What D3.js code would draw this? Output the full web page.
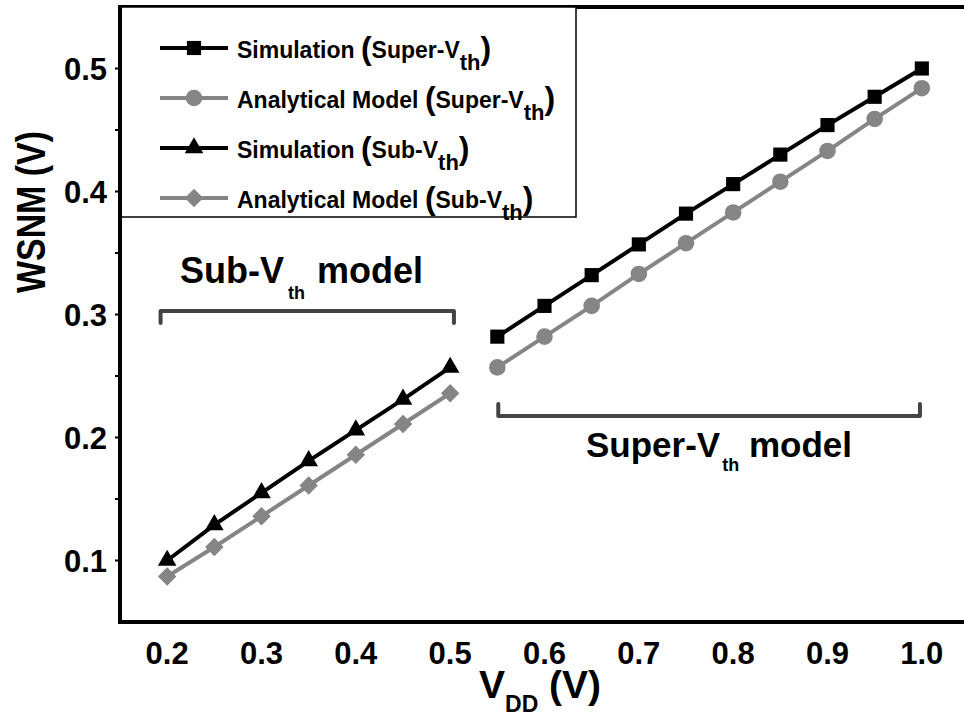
<!DOCTYPE html>
<html>
<head>
<meta charset="utf-8">
<script src="https://cdn.jsdelivr.net/npm/d3@7"></script>
<style>
  body { margin: 0; background: #fff; }
  text { font-family: "Liberation Sans", Arial, sans-serif; font-weight: bold; }
</style>
</head>
<body>
<svg width="964" height="717"></svg>
<script>
// data
var vddSuper = [0.55, 0.6, 0.65, 0.7, 0.75, 0.8, 0.85, 0.9, 0.95, 1.0];
var simSuper = [0.282, 0.307, 0.332, 0.357, 0.382, 0.406, 0.430, 0.454, 0.477, 0.500];
var modelSuper = [0.257, 0.282, 0.307, 0.333, 0.358, 0.383, 0.408, 0.433, 0.459, 0.484];

var vddSub = [0.2, 0.25, 0.3, 0.35, 0.4, 0.45, 0.5];
var simSub = [0.100, 0.129, 0.155, 0.181, 0.206, 0.231, 0.257];
var modelSub = [0.087, 0.111, 0.136, 0.161, 0.186, 0.211, 0.236];

var xTicks = [0.2, 0.3, 0.4, 0.5, 0.6, 0.7, 0.8, 0.9, 1.0];
var yTicks = [0.1, 0.2, 0.3, 0.4, 0.5];
var yMinor = [0.1, 0.15, 0.2, 0.25, 0.3, 0.35, 0.4, 0.45, 0.5];

var svg = d3.select('svg');

var x = d3.scaleLinear().domain([0.15, 1.05]).range([120, 969]);
var y = d3.scaleLinear().domain([0.05, 0.55]).range([622, 7]);

var black = '#000';
var gray = '#858585';

// series definitions
var series = [
    { name: 'Simulation ', tag: 'Super-V', xs: vddSuper, ys: simSuper, color: black, shape: 'square' },
    { name: 'Analytical Model ', tag: 'Super-V', xs: vddSuper, ys: modelSuper, color: gray, shape: 'circle' },
    { name: 'Simulation ', tag: 'Sub-V', xs: vddSub, ys: simSub, color: black, shape: 'triangle' },
    { name: 'Analytical Model ', tag: 'Sub-V', xs: vddSub, ys: modelSub, color: gray, shape: 'diamond' }
];

function symbolPath(shape) {
    if (shape === 'square') return d3.symbol().type(d3.symbolSquare).size(200)();
    if (shape === 'circle') return d3.symbol().type(d3.symbolCircle).size(215)();
    if (shape === 'triangle') return d3.symbol().type(d3.symbolTriangle).size(150)();
    return d3.symbol().type(d3.symbolSquare).size(170)();
}

// frame
svg.append('rect')
    .attr('x', x(0.15)).attr('y', y(0.55))
    .attr('width', x(1.05) - x(0.15)).attr('height', y(0.05) - y(0.55))
    .attr('fill', 'none').attr('stroke', black).attr('stroke-width', 4);

// y axis (tiny ticks)
var yAxis = svg.append('g').attr('transform', 'translate(' + x(0.15) + ',0)');
yAxis.selectAll('line').data(yMinor).enter().append('line')
    .attr('x1', -5).attr('x2', 0)
    .attr('y1', function(d) { return y(d); }).attr('y2', function(d) { return y(d); })
    .attr('stroke', black).attr('stroke-width', 2);
yAxis.selectAll('text').data(yTicks).enter().append('text')
    .attr('x', -13).attr('y', function(d) { return y(d) + 11; })
    .attr('text-anchor', 'end').attr('font-size', 31)
    .text(function(d) { return d.toFixed(1); });

// x axis labels
svg.append('g').selectAll('text').data(xTicks).enter().append('text')
    .attr('x', function(d) { return x(d); }).attr('y', 664)
    .attr('text-anchor', 'middle').attr('font-size', 31)
    .text(function(d) { return d.toFixed(1); });

// axis titles
var xt = svg.append('text').attr('x', 479).attr('y', 698).attr('font-size', 39);
xt.append('tspan').text('V');
xt.append('tspan').attr('font-size', 23).attr('dy', 14).text('DD');
xt.append('tspan').attr('dy', -14).text(' (V)');

svg.append('text')
    .attr('transform', 'translate(45,212) rotate(-90)')
    .attr('text-anchor', 'middle').attr('font-size', 40)
    .attr('textLength', 162).attr('lengthAdjust', 'spacingAndGlyphs')
    .text('WSNM (V)');

// lines and markers
var line = d3.line()
    .x(function(d) { return x(d[0]); })
    .y(function(d) { return y(d[1]); });

series.forEach(function(s) {
    var pts = s.xs.map(function(v, i) { return [v, s.ys[i]]; });
    svg.append('path').datum(pts)
        .attr('d', line).attr('fill', 'none')
        .attr('stroke', s.color).attr('stroke-width', 4);
    svg.append('g').selectAll('path').data(pts).enter().append('path')
        .attr('d', symbolPath(s.shape))
        .attr('transform', function(d) {
            return 'translate(' + x(d[0]) + ',' + y(d[1]) + ')' + (s.shape === 'diamond' ? ' rotate(45)' : '');
        })
        .attr('fill', s.color);
});

// model range brackets
var bracketColor = '#444';
function bracket(x0, x1, yy, dir) {
    svg.append('path')
        .attr('d', 'M' + x(x0) + ',' + (yy + dir * 12) + 'V' + yy + 'H' + x(x1) + 'V' + (yy + dir * 12))
        .attr('fill', 'none').attr('stroke', bracketColor).attr('stroke-width', 4)
        .attr('stroke-linecap', 'round').attr('stroke-linejoin', 'round');
}
bracket(0.193, 0.504, 311, 1);
bracket(0.551, 0.998, 416, -1);

var t1 = svg.append('text').attr('x', 180).attr('y', 283).attr('font-size', 36);
t1.append('tspan').text('Sub-V');
t1.append('tspan').attr('font-size', 18).attr('dx', 4).attr('dy', 16).text('th');
t1.append('tspan').attr('dx', 2).attr('dy', -16).text(' model');

var t2 = svg.append('text').attr('x', 586).attr('y', 457).attr('font-size', 35);
t2.append('tspan').text('Super-V');
t2.append('tspan').attr('font-size', 18).attr('dx', 2).attr('dy', 14).text('th');
t2.append('tspan').attr('dy', -14).text(' model');

// legend
svg.append('rect')
    .attr('x', 120).attr('y', 7).attr('width', 456).attr('height', 210)
    .attr('fill', '#fff').attr('stroke', black).attr('stroke-width', 1.5);
svg.append('line').attr('x1', 120).attr('x2', 120).attr('y1', 5).attr('y2', 222)
    .attr('stroke', black).attr('stroke-width', 4);

var rowY = [48, 98, 148, 198];
series.forEach(function(s, i) {
    var ry = rowY[i];
    svg.append('line').attr('x1', 160).attr('x2', 228).attr('y1', ry).attr('y2', ry)
        .attr('stroke', s.color).attr('stroke-width', 4);
    svg.append('path').attr('d', symbolPath(s.shape))
        .attr('transform', 'translate(194,' + ry + ')' + (s.shape === 'diamond' ? ' rotate(45)' : ''))
        .attr('fill', s.color);
    var t = svg.append('text').attr('x', 237).attr('y', ry + 10).attr('font-size', 23);
    t.append('tspan').text(s.name);
    t.append('tspan').attr('font-size', 32).attr('dy', 1).text('(');
    t.append('tspan').attr('dy', -1).text(s.tag);
    t.append('tspan').attr('font-size', 22).attr('dy', 12).text('th');
    t.append('tspan').attr('font-size', 32).attr('dy', -11).text(')');
});
</script>
</body>
</html>
